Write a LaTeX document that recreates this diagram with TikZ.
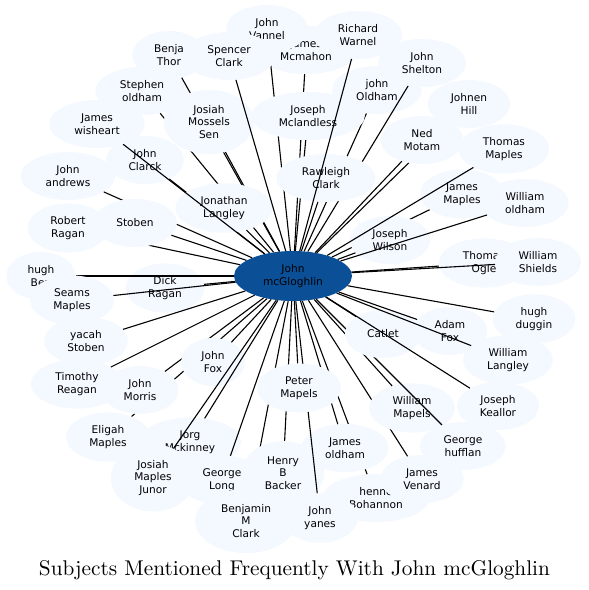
\documentclass[tikz,border=0pt]{standalone}
\usepackage{fontspec}
\newfontfamily\dvsans{DejaVu Sans}
\newfontfamily\titlefont{lmroman10-regular}[Extension=.otf]
\usetikzlibrary{shapes.geometric}
\definecolor{leafc}{HTML}{F4F8FF}
\definecolor{hubc}{HTML}{0B4F97}
\newcommand\leaffont{\dvsans\fontsize{10.6}{12.6}\selectfont}
\tikzset{
  leaf/.style={ellipse, fill=leafc, inner xsep=11pt, inner ysep=6pt, minimum height=48pt, align=center, font=\leaffont, text=black},
  hub/.style={ellipse, fill=hubc, minimum width=118pt, minimum height=50pt, inner sep=0pt, align=center, font=\leaffont, text=black},
  link/.style={line width=1.1pt, draw=black},
  titletext/.style={anchor=base, inner sep=0pt, font=\titlefont\fontsize{21.3}{24}\selectfont}
}
\begin{document}
\begin{tikzpicture}[x=1pt,y=-1pt]
\useasboundingbox (0,0) rectangle (589,590);
\node[hub] (c) at (293,276) {John\\mcGloghlin};
\node[leaf] (mcm) at (306,50) {James\\Mcmahon}; \draw[link] (c) -- (mcm);
\node[leaf] (van) at (267,29) {John\\Vannel}; \draw[link] (c) -- (van);
\node[leaf] (jold) at (377,90) {john\\Oldham}; \draw[link] (c) -- (jold);
\node[leaf] (she) at (422,63) {John\\Shelton}; \draw[link] (c) -- (she);
\node[leaf] (mcl) at (308,116) {Joseph\\Mclandless}; \draw[link] (c) -- (mcl);
\node[leaf] (raw) at (326,178) {Rawleigh\\Clark}; \draw[link] (c) -- (raw);
\node[leaf] (war) at (358,35) {Richard\\Warnel}; \draw[link] (c) -- (war);
\node[leaf] (sto) at (142,91) {Stephen\\oldham}; \draw[link] (c) -- (sto);
\node[leaf] (ben) at (169,55) {Benja\\Thor}; \draw[link] (c) -- (ben);
\node[leaf] (mos) at (209,122) {Josiah\\Mossels\\Sen}; \draw[link] (c) -- (mos);
\node[leaf] (jcl) at (145,160) {John\\Clarck}; \draw[link] (c) -- (jcl);
\node[leaf] (jla) at (224,208) {Jonathan\\Langley}; \draw[link] (c) -- (jla);
\node[leaf] (spe) at (229,56) {Spencer\\Clark}; \draw[link] (c) -- (spe);
\node[leaf] (jwi) at (97,124) {James\\wisheart}; \draw[link] (c) -- (jwi);
\node[leaf] (jan) at (68,176) {John\\andrews}; \draw[link] (c) -- (jan);
\node[leaf] (rra) at (68,228) {Robert\\Ragan}; \draw[link] (c) -- (rra);
\node[leaf] (stb) at (135,223) {Stoben}; \draw[link] (c) -- (stb);
\node[leaf] (dra) at (165,288) {Dick\\Ragan}; \draw[link] (c) -- (dra);
\node[leaf] (hbe) at (41,276) {hugh\\Ben}; \draw[link] (c) -- (hbe);
\node[leaf] (sma) at (72,300) {Seams\\Maples}; \draw[link] (c) -- (sma);
\node[leaf] (yst) at (86,341) {yacah\\Stoben}; \draw[link] (c) -- (yst);
\node[leaf] (tre) at (77,384) {Timothy\\Reagan}; \draw[link] (c) -- (tre);
\node[leaf] (ema) at (108,437) {Eligah\\Maples}; \draw[link] (c) -- (ema);
\node[leaf] (jmo) at (140,390) {John\\Morris}; \draw[link] (c) -- (jmo);
\node[leaf] (jfo) at (213,362) {John\\Fox}; \draw[link] (c) -- (jfo);
\node[leaf] (jmk) at (190,442) {Jorg\\Mckinney}; \draw[link] (c) -- (jmk);
\node[leaf] (jmj) at (153,478) {Josiah\\Maples\\Junor}; \draw[link] (c) -- (jmj);
\node[leaf] (glo) at (222,480) {George\\Long}; \draw[link] (c) -- (glo);
\node[leaf] (bmc) at (246,521) {Benjamin\\M\\Clark}; \draw[link] (c) -- (bmc);
\node[leaf] (hbb) at (283,473) {Henry\\B\\Backer}; \draw[link] (c) -- (hbb);
\node[leaf] (boh) at (376,498) {henne\\Bohannon}; \draw[link] (c) -- (boh);
\node[leaf] (jol) at (345,448) {James\\oldham}; \draw[link] (c) -- (jol);
\node[leaf] (jya) at (320,518) {John\\yanes}; \draw[link] (c) -- (jya);
\node[leaf] (pma) at (299,388) {Peter\\Mapels}; \draw[link] (c) -- (pma);
\node[leaf] (jve) at (422,479) {James\\Venard}; \draw[link] (c) -- (jve);
\node[leaf] (wma) at (412,408) {William\\Mapels}; \draw[link] (c) -- (wma);
\node[leaf] (ghu) at (463,446) {George\\hufflan}; \draw[link] (c) -- (ghu);
\node[leaf] (cat) at (383,334) {Catlet}; \draw[link] (c) -- (cat);
\node[leaf] (jke) at (498,406) {Joseph\\Keallor}; \draw[link] (c) -- (jke);
\node[leaf] (afo) at (450,331) {Adam\\Fox}; \draw[link] (c) -- (afo);
\node[leaf] (wla) at (508,360) {William\\Langley}; \draw[link] (c) -- (wla);
\node[leaf] (hdu) at (534,319) {hugh\\duggin}; \draw[link] (c) -- (hdu);
\node[leaf] (tog) at (484,263) {Thomas\\Ogle}; \draw[link] (c) -- (tog);
\node[leaf] (wsh) at (538,262) {William\\Shields}; \draw[link] (c) -- (wsh);
\node[leaf] (jma) at (462,194) {James\\Maples}; \draw[link] (c) -- (jma);
\node[leaf] (jwl) at (390,240) {Joseph\\Wilson}; \draw[link] (c) -- (jwl);
\node[leaf] (wol) at (525,203) {William\\oldham}; \draw[link] (c) -- (wol);
\node[leaf] (tma) at (504,149) {Thomas\\Maples}; \draw[link] (c) -- (tma);
\node[leaf] (jhi) at (469,104) {Johnen\\Hill}; \draw[link] (c) -- (jhi);
\node[leaf] (nmo) at (422,140) {Ned\\Motam}; \draw[link] (c) -- (nmo);
\node[titletext] (title) at (294.5,575) {Subjects Mentioned Frequently With John mcGloghlin};
\end{tikzpicture}
\end{document}
